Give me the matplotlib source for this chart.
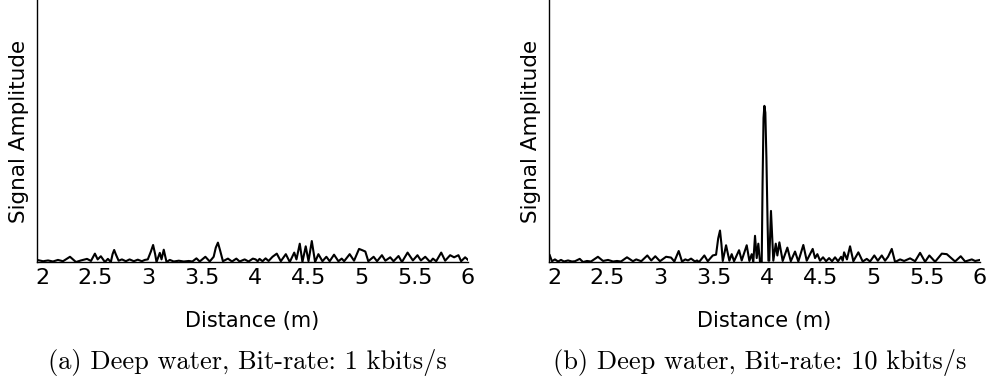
import matplotlib.pyplot as plt

# (a) 1 kbits/s
dist_a = [1.95, 2.007, 2.054, 2.10, 2.147, 2.194, 2.26, 2.316, 2.363, 2.42,
          2.457, 2.494, 2.52, 2.55, 2.588, 2.616, 2.644, 2.66, 2.675, 2.69,
          2.717, 2.748, 2.785, 2.82, 2.86, 2.897, 2.935, 2.963, 2.991, 3.02,
          3.041, 3.06, 3.073, 3.104, 3.12, 3.141, 3.167, 3.198, 3.235, 3.282,
          3.329, 3.376, 3.41, 3.448, 3.479, 3.532, 3.573, 3.61, 3.63, 3.65,
          3.67, 3.697, 3.744, 3.782, 3.823, 3.854, 3.901, 3.938, 3.978, 4.004,
          4.023, 4.041, 4.069, 4.098, 4.126, 4.163, 4.203, 4.241, 4.288, 4.325,
          4.367, 4.388, 4.419, 4.444, 4.475, 4.501, 4.532, 4.563, 4.594, 4.632,
          4.669, 4.70, 4.741, 4.782, 4.813, 4.836, 4.888, 4.929, 4.976, 5.007,
          5.035, 5.063, 5.113, 5.145, 5.191, 5.223, 5.269, 5.30, 5.347, 5.379,
          5.432, 5.482, 5.525, 5.557, 5.598, 5.644, 5.67, 5.701, 5.748, 5.785,
          5.832, 5.869, 5.91, 5.935, 5.973, 6.0]
amp_a = [0.008, 0.003, 0.006, 0.002, 0.008, 0.003, 0.02, 0.0, 0.006, 0.012,
         0.004, 0.032, 0.01, 0.022, 0.0, 0.012, 0.0, 0.03, 0.046, 0.03,
         0.005, 0.01, 0.003, 0.01, 0.003, 0.009, 0.003, 0.008, 0.01, 0.04,
         0.065, 0.03, 0.0, 0.035, 0.01, 0.047, 0.0, 0.008, 0.002, 0.005,
         0.002, 0.004, 0.002, 0.014, 0.002, 0.02, 0.002, 0.02, 0.055, 0.074,
         0.045, 0.003, 0.013, 0.002, 0.013, 0.002, 0.01, 0.002, 0.013, 0.01,
         0.003, 0.012, 0.003, 0.014, 0.004, 0.02, 0.032, 0.003, 0.03, 0.0,
         0.036, 0.01, 0.07, 0.0, 0.06, 0.003, 0.08, 0.0, 0.03, 0.003,
         0.02, 0.003, 0.028, 0.003, 0.013, 0.003, 0.03, 0.005, 0.05, 0.045,
         0.04, 0.003, 0.02, 0.003, 0.026, 0.005, 0.018, 0.003, 0.023, 0.0,
         0.036, 0.006, 0.026, 0.006, 0.02, 0.0, 0.013, 0.003, 0.036, 0.005,
         0.026, 0.018, 0.026, 0.003, 0.018, 0.008]

# (b) 10 kbits/s
dist_b = [1.957, 1.978, 2.006, 2.035, 2.063, 2.091, 2.129, 2.166, 2.194, 2.239,
          2.27, 2.307, 2.345, 2.41, 2.458, 2.505, 2.552, 2.589, 2.627, 2.683,
          2.739, 2.77, 2.817, 2.874, 2.911, 2.949, 2.993, 3.05, 3.097, 3.128,
          3.169, 3.2, 3.231, 3.256, 3.285, 3.322, 3.341, 3.36, 3.41, 3.442,
          3.489, 3.52, 3.54, 3.557, 3.57, 3.583, 3.614, 3.645, 3.667, 3.689,
          3.736, 3.761, 3.808, 3.833, 3.855, 3.87, 3.886, 3.902, 3.917, 3.933,
          3.949, 3.957, 3.966, 3.974, 3.983, 3.993, 4.004, 4.012, 4.02, 4.036,
          4.058, 4.081, 4.096, 4.115, 4.146, 4.19, 4.222, 4.262, 4.293, 4.34,
          4.372, 4.428, 4.45, 4.472, 4.497, 4.525, 4.554, 4.582, 4.61, 4.638,
          4.666, 4.695, 4.71, 4.723, 4.75, 4.779, 4.81, 4.857, 4.898, 4.936,
          4.967, 5.007, 5.04, 5.077, 5.108, 5.136, 5.171, 5.202, 5.249, 5.287,
          5.343, 5.39, 5.437, 5.484, 5.524, 5.578, 5.641, 5.688, 5.766, 5.819,
          5.86, 5.923, 5.954, 6.0]
amp_b = [0.026, 0.003, 0.01, 0.002, 0.008, 0.002, 0.006, 0.002, 0.003, 0.012,
         0.0, 0.004, 0.002, 0.02, 0.004, 0.008, 0.002, 0.004, 0.002, 0.018,
         0.003, 0.01, 0.003, 0.025, 0.006, 0.022, 0.003, 0.02, 0.017, 0.002,
         0.042, 0.002, 0.01, 0.006, 0.013, 0.002, 0.006, 0.0, 0.025, 0.003,
         0.025, 0.028, 0.09, 0.12, 0.07, 0.004, 0.064, 0.005, 0.03, 0.003,
         0.045, 0.006, 0.064, 0.004, 0.03, 0.0, 0.1, 0.015, 0.07, 0.0,
         0.0, 0.3, 0.55, 0.596, 0.57, 0.4, 0.15, 0.005, 0.005, 0.195,
         0.005, 0.07, 0.025, 0.075, 0.004, 0.055, 0.003, 0.04, 0.002, 0.065,
         0.005, 0.05, 0.015, 0.03, 0.005, 0.018, 0.003, 0.015, 0.003, 0.018,
         0.003, 0.02, 0.005, 0.037, 0.01, 0.06, 0.003, 0.037, 0.002, 0.012,
         0.002, 0.025, 0.005, 0.025, 0.005, 0.02, 0.05, 0.0, 0.01, 0.004,
         0.014, 0.003, 0.035, 0.001, 0.025, 0.001, 0.032, 0.03, 0.002, 0.022,
         0.002, 0.01, 0.004, 0.008]

xticks = [2, 2.5, 3, 3.5, 4, 4.5, 5, 5.5, 6]
xticklabels = ['2', '2.5', '3', '3.5', '4', '4.5', '5', '5.5', '6']
captions = ['(a) Deep water, Bit-rate: 1 kbits/s',
            '(b) Deep water, Bit-rate: 10 kbits/s']

fig = plt.figure(figsize=(9.92, 3.88), dpi=100)
ax1 = fig.add_axes([0.0373, 0.3247, 0.4345, 0.6753])
ax2 = fig.add_axes([0.5534, 0.3247, 0.4345, 0.6753])

for ax, x, y, cap in [(ax1, dist_a, amp_a, captions[0]), (ax2, dist_b, amp_b, captions[1])]:
    ax.plot(x, y, color='black', lw=1.5)
    ax.set_xlim(1.95, 6.0)
    ax.set_ylim(0, 1)
    ax.spines['top'].set_visible(False)
    ax.spines['right'].set_visible(False)
    ax.spines['left'].set_linewidth(1.0)
    ax.spines['bottom'].set_linewidth(1.0)
    ax.set_yticks([])
    ax.set_xticks(xticks)
    ax.set_xticklabels(xticklabels)
    ax.tick_params(axis='x', length=0, pad=4, labelsize=16)
    ax.set_xlabel('Distance (m)', fontsize=15, labelpad=17)
    ax.set_ylabel('Signal Amplitude', fontsize=15.5, labelpad=6)
    bb = ax.get_position()
    fig.text(bb.x0 + bb.width / 2 - 0.005, 0.067, cap, family='cmr10',
             fontsize=19, ha='center', va='center')

fig.savefig('out.png', dpi=100)
